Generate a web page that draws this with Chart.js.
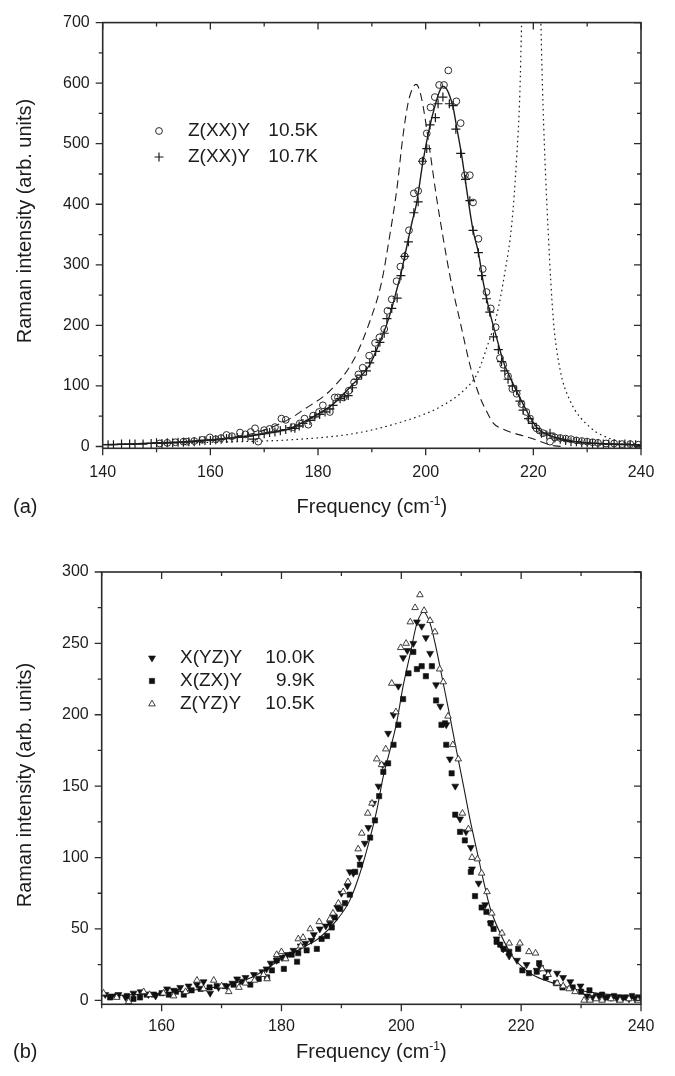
<!DOCTYPE html>
<html>
<head>
<meta charset="utf-8">
<script src="https://cdn.jsdelivr.net/npm/chart.js@4.4.0/dist/chart.umd.min.js"></script>
<style>
  html, body { margin: 0; padding: 0; background: #fff; }
  #boxA { position: absolute; left: 0; top: 0; }
  #boxB { position: absolute; left: 0; top: 540px; }
</style>
</head>
<body>
<div id="boxA"><canvas id="chartA" width="675" height="540"></canvas></div>
<div id="boxB"><canvas id="chartB" width="675" height="536"></canvas></div>
<script>
// ---------- panel (a) ----------
const freqA_105K = [150.6,152,153.5,155,155.6,157,158.5,159.9,161,162,163,164,165.5,166.5,167.5,168.3,168.9,170,171,172,173.2,174,175.4,176.6,177.5,178.2,179.1,180.2,180.9,182.2,183.1,183.7,184.7,185.7,186.7,187.5,188.3,189.5,190.6,191.4,192.3,192.9,193.7,194.6,195.3,196.1,196.9,197.8,198.6,199.4,200.2,200.9,201.7,202.5,203.4,204.2,205.7,206.5,207.3,208.2,208.8,209.8,210.6,211.3,212.1,213.0,213.8,214.4,215.3,216.1,216.9,217.8,218.7,219.4,220.6,221.8,223.1,224,225,226,227,228,229,230,231,232,233.5,235,236.5,238,239.5];
const intA_105K  = [5,6,7,8,8,9,11,15,12,14,19,17,23,20,24,30,8,27,29,32,46,44,32,38,46,36,51,57,68,57,81,81,81,92,106,119,130,150,171,180,194,224,243,273,297,314,357,418,422,471,517,560,577,597,597,621,570,534,448,448,403,343,293,255,228,197,146,135,116,95,87,70,57,46,30,22,8,15,14,13,12,10,9,8,7,6,5,5,4,4,3];

const freqA_107K = [141,142,143.5,145,146,147.5,149,150,151,152,153,154,155,156,157,158,159,160,161,162,163,164,165,166,167,168,169,170,171,172,173,174,175,175.7,176.5,177.2,178.5,179.4,180.3,181.3,182.2,182.8,184.1,184.9,185.6,186.4,187.2,188.1,189.0,189.6,190.7,191.5,192.3,192.8,193.7,194.7,195.4,196.1,196.8,197.8,198.6,199.4,200.2,200.8,201.8,202.3,203.2,204.4,205.1,205.6,206.5,207.4,208.2,208.8,209.8,210.4,211.3,211.9,212.6,213.5,214.1,214.7,215.3,216.1,216.9,217.5,218.1,219.1,219.8,220.6,221.5,222.5,223.1,224,225,226,227,228,229,230,231,232,233,234,235,236,237,238,239,240];
const intA_107K  = [3,3,4,4,4,4,5,6,5,6,6,7,7,8,8,9,10,10,11,12,13,14,15,16,17,12,20,21,23,24,26,28,31,30,34,38,43,49,53,57,62,68,79,82,84,97,111,118,125,138,157,172,187,211,228,245,282,314,338,386,404,471,492,531,543,566,577,566,563,524,484,441,406,357,320,282,244,222,181,160,140,125,111,100,92,75,60,46,38,30,22,19,22,14,12,10,8,8,6,6,5,5,4,4,4,3,4,3,3,2];

// solid fit, dashed and dotted curves of panel (a)
const fitA_x  = [140,145,150,155,160,165,170,174.8,178.5,182.8,186.5,189.6,191.5,192.7,193.7,194.6,195.4,196.1,196.75,197.5,198.3,199.5,200.8,201.8,202.5,203.2,203.9,204.5,205.1,205.7,206.7,207.6,208.8,209.8,210.7,211.9,213.2,214.4,216.0,218.1,220.6,222.8,226,230,235,240];
const fitA_y  = [3,4,6,8,11,15,21,30,46,70,103,135,173,200,228,258,285,314,341,372,401,471,530,565,585,595,590,578,560,530,480,425,357,320,271,222,179,141,108,70,32,19,11,6,4,2];
const dashA_x = [150,160,165,170,174.8,177.2,182.2,186.5,189.6,191.8,193.3,194.6,195.8,196.75,197.5,198.2,198.8,199.5,200.8,202.0,203.2,204.5,206.4,208.5,210.1,211.2,212.6,214,219.5,224,226];
const dashA_y = [5,10,16,27,46,60,92,141,206,271,347,422,514,568,590,598,590,563,487,412,347,282,206,125,81,60,38,30,14,1,0];
const dotA_x  = [150,160,174.8,187.1,196.4,202.6,207,209.5,211.3,213.2,214.7,216,216.9,217.5,217.8,218.6,219.7,220.7,221.4,221.8,222.8,223.7,224.9,226.8,230.5,234.9,239.8];
const dotA_y  = [5,7,11,22,43,65,92,119,162,217,287,368,477,585,693,1000,1500,1000,700,563,347,211,130,76,32,11,3];

// ---------- panel (b) ----------
const freqB_YZ = [150.6,151.7,152.8,154,155.3,156.5,157.8,159,160.9,162,163.1,164.5,165.9,167,168.1,169.5,170.9,171.8,172.6,174,175.4,176.8,177.5,178.2,179.2,180.1,181,182,183.2,184,185.0,185.4,186.4,187.4,188.1,188.7,189.3,190.0,191,191.4,192.0,193,193.9,194.5,195.3,196.2,196.9,197.8,198.7,199.5,200.3,201,202.0,202.6,203.4,204.1,204.8,205.8,206.5,207.5,208.1,209.0,209.8,210.8,211.6,211.8,212.9,214.0,214.9,215.9,217,218,219.3,220.9,222.6,223.2,224.5,226,227,228.2,229.9,231,232,233,234,235,236,237,238,239,240];
const intB_YZ  = [4,3,4,2,5,6,4,3,8,7,9,10,11,13,5,9,10,12,15,16,18,20,22,26,28,30,32,35,38,40,42,46,50,52,54,59,65,75,80,90,89,100,110,121,138,150,165,187,200,220,240,245,250,265,262,254,243,221,206,193,169,150,127,118,107,92,82,67,54,43,36,31,28,25,21,23,20,19,16,13,10,3,2,3,2,2,1,2,1,1,2];

const freqB_ZX = [151.4,152.6,154.2,155.3,156.4,157.5,158.7,160,161.2,162.4,163.7,165,166.5,168,169.2,170.5,172,173.4,174.8,176.2,177.6,178.4,179.2,180.4,180.6,181.7,182.6,182.8,184.2,185.9,186.7,187.6,188.4,188.9,189.8,190.6,191.4,192.3,193.1,194.8,195.6,196.3,197.0,197.8,198.7,199.5,200.3,201.2,202.0,202.6,203.4,204.1,205.1,205.8,206.7,207.3,207.5,208.4,209.0,209.8,210.6,211.6,212.3,213.4,214.2,214.9,215.4,215.9,216.5,217.1,218.0,219.5,220.2,221.3,222.6,223,224.1,225.8,226.9,228.6,230,231.4,232.5,233.5,234.5,235.5,236.5,237.5,238.5,239.5];
const intB_ZX  = [2,3,3,1,2,4,4,5,4,6,4,7,8,9,10,10,11,13,11,15,16,21,28,22,30,32,27,33,35,36,43,45,51,58,64,68,74,90,95,114,126,143,160,166,179,193,211,229,244,232,234,227,234,210,193,194,179,159,130,118,112,90,73,65,62,54,50,41,39,36,34,36,21,19,20,26,16,12,9,9,6,7,3,4,2,3,2,2,3,2];

const freqB_ZY = [150.3,152.5,154.5,157,158,160.3,162,164,165.9,167,168.7,170,171.2,172.9,174,175.5,177,177.6,179.2,180.0,180.7,182.8,183.2,183.6,184.8,186.3,188.1,188.6,189.5,190.3,191.1,192.8,193.4,194.4,195.1,195.9,196.7,197.4,198.4,199.1,199.9,200.8,201.5,202.3,203.1,203.8,204.8,205.6,206.4,207.0,207.8,208.6,209.5,210.2,211.2,211.8,212.7,213.4,214.3,215.1,216.8,218,219.8,221.3,222.4,223.5,224.5,226,227,228,229,230.5,231.5,232.5,233.5,235,236.5,238,239.5];
const intB_ZY  = [5,2,-1,6,4,5,3,6,14,8,14,10,6,9,12,14,18,15,32,34,29,43,38,44,50,55,57,61,68,76,83,106,117,131,138,169,165,176,222,202,247,250,265,275,284,273,266,258,232,223,199,179,169,131,120,100,99,89,76,61,47,40,40,34,33,22,18,12,10,8,6,0,0,1,0,1,0,1,0];

const fitB_x = [150,160,170,175,179.7,183.6,186.4,189.2,191.4,193.1,194.8,195.9,197.0,198.1,199.2,200.3,201.5,202.6,203.7,204.8,205.9,207.0,208.1,209.2,210.3,211.5,212.6,213.7,214.8,216.5,218.7,221.5,224,227,231,235,240];
const fitB_y = [3,5,10,16,28,37,44,56,70,89,114,133,157,175,194,220,243,264,272,264,245,222,199,175,152,126,105,84,65,47,30,19,14,10,6,4,2];

const pts = (xs, ys) => xs.map((x, i) => ({ x: x, y: ys[i] }));

const FONT = '"Liberation Sans", Arial, Helvetica, sans-serif';
const INK = '#1c1c1c';

// frame, mirrored ticks, legend, axis titles and panel letter
const framePlugin = {
  id: 'frame',
  afterDatasetsDraw(chart, args, o) {
    const { ctx, chartArea: a } = chart;
    const sx = chart.scales.x, sy = chart.scales.y;
    const isMajor = (v, step) => Math.abs(v / step - Math.round(v / step)) < 1e-6;
    ctx.save();
    ctx.strokeStyle = '#2b2b2b';
    ctx.lineWidth = 1.3;
    ctx.beginPath();
    for (let v = o.xStart; v <= sx.max + 1e-6; v += o.xMinor) {
      const p = sx.getPixelForValue(v);
      const len = isMajor(v, o.xMajor) ? 7 : 4;
      ctx.moveTo(p, a.bottom); ctx.lineTo(p, a.bottom + len);
      ctx.moveTo(p, a.top); ctx.lineTo(p, a.top + len);
    }
    for (let v = 0; v <= sy.max + 1e-6; v += o.yMinor) {
      const p = sy.getPixelForValue(v);
      const len = isMajor(v, o.yMajor) ? 7 : 4;
      ctx.moveTo(a.left, p); ctx.lineTo(a.left - len, p);
      ctx.moveTo(a.right, p); ctx.lineTo(a.right - len, p);
    }
    ctx.stroke();
    ctx.lineWidth = 1.6;
    ctx.strokeRect(a.left, a.top, a.right - a.left, a.bottom - a.top);

    // legend
    ctx.font = o.legendFont + 'px ' + FONT;
    ctx.textBaseline = 'middle';
    o.legend.forEach((item, i) => {
      const ds = chart.data.datasets[item.ds];
      const y = o.legendY + i * o.legendStep;
      ctx.fillStyle = ds.backgroundColor;
      ctx.strokeStyle = ds.borderColor;
      ctx.lineWidth = ds.borderWidth;
      Chart.helpers.drawPoint(ctx, {
        pointStyle: ds.pointStyle, rotation: ds.pointRotation || 0,
        radius: ds.pointRadius, borderWidth: ds.borderWidth
      }, o.legendSymX, y);
      ctx.fillStyle = INK;
      ctx.textAlign = 'left';
      ctx.fillText(item.name, o.legendTextX, y);
      ctx.textAlign = 'right';
      ctx.fillText(item.temp, o.legendTempX, y);
    });

    const tf = o.titleFont;
    ctx.fillStyle = INK;

    // y axis title, rotated
    ctx.save();
    ctx.translate(25, o.yTitleCenter);
    ctx.rotate(-Math.PI / 2);
    ctx.font = tf + 'px ' + FONT;
    ctx.textAlign = 'center';
    ctx.textBaseline = 'middle';
    ctx.fillText('Raman intensity (arb. units)', 0, 0);
    ctx.restore();

    // x axis title with superscript
    const main = 'Frequency (cm', sup = '-1', tail = ')';
    ctx.font = tf + 'px ' + FONT;
    const w1 = ctx.measureText(main).width, w3 = ctx.measureText(tail).width;
    ctx.font = Math.round(tf * 0.62) + 'px ' + FONT;
    const w2 = ctx.measureText(sup).width;
    const x0 = (a.left + a.right) / 2 - (w1 + w2 + w3) / 2;
    ctx.textAlign = 'left';
    ctx.textBaseline = 'alphabetic';
    ctx.font = tf + 'px ' + FONT;
    ctx.fillText(main, x0, o.titleBase);
    ctx.font = Math.round(tf * 0.62) + 'px ' + FONT;
    ctx.fillText(sup, x0 + w1, o.titleBase - tf * 0.42);
    ctx.font = tf + 'px ' + FONT;
    ctx.fillText(tail, x0 + w1 + w2, o.titleBase);
    // panel letter
    ctx.fillText(o.panel, 13, o.titleBase);
    ctx.restore();
  }
};

function makeChart(id, cfg) {
  return new Chart(document.getElementById(id), {
    type: 'scatter',
    data: { datasets: cfg.datasets },
    options: {
      responsive: false,
      animation: false,
      events: [],
      layout: { padding: { top: cfg.top, right: 34, left: 0, bottom: 0 } },
      plugins: { legend: { display: false }, tooltip: { enabled: false }, frame: cfg.frame },
      scales: {
        x: {
          type: 'linear', min: cfg.xMin, max: cfg.xMax,
          grid: { display: false, drawTicks: false },
          border: { display: false },
          ticks: { autoSkip: false, maxRotation: 0, padding: cfg.xPad,
                   color: INK, font: { family: FONT, size: 16 } },
          afterBuildTicks: s => { s.ticks = cfg.xTicks.map(v => ({ value: v })); },
          afterFit: s => { s.height = cfg.xHeight; }
        },
        y: {
          type: 'linear', min: cfg.yMin, max: cfg.yMax,
          grid: { display: false, drawTicks: false },
          border: { display: false },
          ticks: { padding: 13, color: INK, font: { family: FONT, size: 16 } },
          afterBuildTicks: s => { s.ticks = cfg.yTicks.map(v => ({ value: v })); },
          afterFit: s => { s.width = cfg.yWidth; }
        }
      }
    },
    plugins: [framePlugin]
  });
}

const lineDs = (xs, ys, extra) => Object.assign({
  data: pts(xs, ys), showLine: true, pointRadius: 0, borderColor: INK,
  borderWidth: 1.3, backgroundColor: INK, cubicInterpolationMode: 'monotone'
}, extra);

makeChart('chartA', {
  top: 15.7, xMin: 140, xMax: 240, yMin: -3, yMax: 700, xHeight: 540 - 448.3, yWidth: 102.7, xPad: 15,
  xTicks: [140, 160, 180, 200, 220, 240],
  yTicks: [0, 100, 200, 300, 400, 500, 600, 700],
  datasets: [
    { label: 'Z(XX)Y 10.5K', data: pts(freqA_105K, intA_105K), pointStyle: 'circle', pointRadius: 3.4,
      borderColor: '#2a2a2a', backgroundColor: 'rgba(255,255,255,0)', borderWidth: 1 },
    { label: 'Z(XX)Y 10.7K', data: pts(freqA_107K, intA_107K), pointStyle: 'cross', pointRadius: 4.5,
      borderColor: '#1a1a1a', backgroundColor: '#1a1a1a', borderWidth: 1.2 },
    lineDs(fitA_x, fitA_y, { borderWidth: 1.4 }),
    lineDs(dashA_x, dashA_y, { borderDash: [8, 5], borderWidth: 1.1 }),
    lineDs(dotA_x, dotA_y, { borderDash: [1.6, 3.4], borderWidth: 1.2 })
  ],
  frame: {
    xStart: 140, xMinor: 10, xMajor: 20, yMinor: 50, yMajor: 100,
    legend: [{ ds: 0, name: 'Z(XX)Y', temp: '10.5K' }, { ds: 1, name: 'Z(XX)Y', temp: '10.7K' }],
    legendFont: 19, legendY: 131, legendStep: 26, legendSymX: 159, legendTextX: 188, legendTempX: 318,
    titleFont: 20, titleBase: 513, yTitleCenter: 221, panel: '(a)'
  }
});

makeChart('chartB', {
  top: 32, xMin: 150, xMax: 240, yMin: -2.8, yMax: 300, xHeight: 536 - 464.3, yWidth: 101.7, xPad: 13,
  xTicks: [160, 180, 200, 220, 240],
  yTicks: [0, 50, 100, 150, 200, 250, 300],
  datasets: [
    { label: 'Z(YZ)Y 10.5K', data: pts(freqB_ZY, intB_ZY), pointStyle: 'triangle', pointRadius: 3.8,
      borderColor: '#2a2a2a', backgroundColor: '#ffffff', borderWidth: 0.9 },
    { label: 'X(YZ)Y 10.0K', data: pts(freqB_YZ, intB_YZ), pointStyle: 'triangle', pointRotation: 180,
      pointRadius: 4, borderColor: '#111', backgroundColor: '#111', borderWidth: 0.6 },
    { label: 'X(ZX)Y 9.9K', data: pts(freqB_ZX, intB_ZX), pointStyle: 'rect', pointRadius: 3.7,
      borderColor: '#111', backgroundColor: '#111', borderWidth: 0.6 },
    lineDs(fitB_x, fitB_y, { borderWidth: 1.1 })
  ],
  frame: {
    xStart: 150, xMinor: 10, xMajor: 20, yMinor: 25, yMajor: 50,
    legend: [{ ds: 1, name: 'X(YZ)Y', temp: '10.0K' }, { ds: 2, name: 'X(ZX)Y', temp: '9.9K' },
             { ds: 0, name: 'Z(YZ)Y', temp: '10.5K' }],
    legendFont: 19, legendY: 118, legendStep: 23, legendSymX: 152, legendTextX: 180, legendTempX: 315,
    titleFont: 20, titleBase: 518, yTitleCenter: 245, panel: '(b)'
  }
});
</script>
</body>
</html>
